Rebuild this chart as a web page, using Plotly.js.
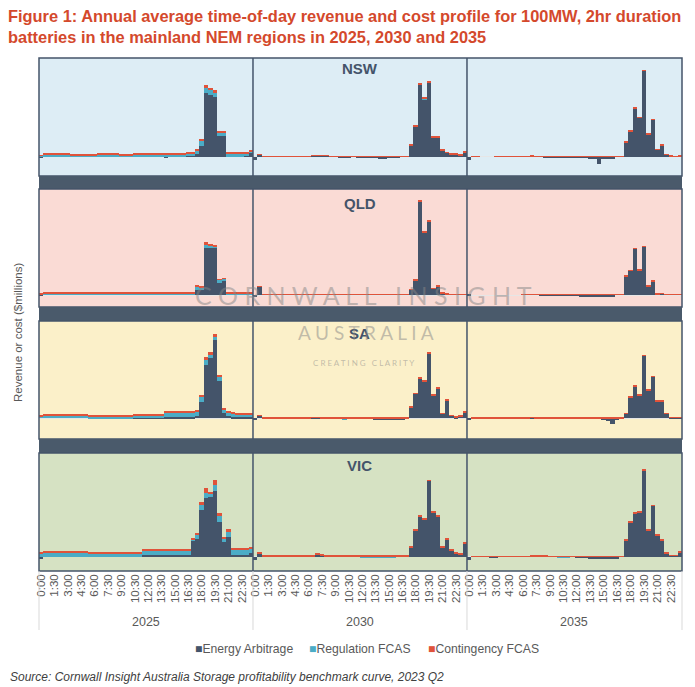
<!DOCTYPE html>
<html><head><meta charset="utf-8">
<script src="https://cdn.plot.ly/plotly-3.0.1.min.js"></script>
<style>html,body{margin:0;padding:0;background:#fff}#chart{width:695px;height:687px}</style>
</head><body><div id="chart"></div>
<script>
// Half-hourly categories
const times = ["0:00","0:30","1:00","1:30","2:00","2:30","3:00","3:30","4:00","4:30","5:00","5:30",
"6:00","6:30","7:00","7:30","8:00","8:30","9:00","9:30","10:00","10:30","11:00","11:30",
"12:00","12:30","13:00","13:30","14:00","14:30","15:00","15:30","16:00","16:30","17:00","17:30",
"18:00","18:30","19:00","19:30","20:00","20:30","21:00","21:30","22:00","22:30","23:00","23:30"];
const tickLabels = ["0:00","1:30","3:00","4:30","6:00","7:30","9:00","10:30","12:00","13:30","15:00","16:30","18:00","19:30","21:00","22:30"];
const regions = ["NSW","QLD","SA","VIC"];
const years = ["2025","2030","2035"];
const seriesNames = ["Energy Arbitrage","Regulation FCAS","Contingency FCAS"];

// ---------- NSW ----------
const nswEA2025 = [-1.5,0,0,0,0,0, 0,0,0,0,0,0, 0,0,0,0,0,0, 0,0,0,0,0,0, 0,0,0,0,-0.5,0, 0,0,0,0.5,0.5,2.7, 11,64,61.7,60,20.7,20.7, 0.3,0.3,0.3,0.3,0.5,4];
const nswReg2025 = [1,2.4,2.4,2.4,2.4,2.4, 2.4,1.6,1.6,1.6,1.6,1.6, 1.6,2.4,2.4,2.4,2.4,2.4, 1.6,1.6,1.6,2.4,2.4,2.4, 2.4,2.4,2.4,2.4,2.2,2.2, 2.2,2.2,2.2,2.8,3.2,3.5, 5,5,5,4.3,3.7,3.7, 3,3,3,3,3,1.5];
const nswCont2025 = [0.6,0.9,0.9,0.9,0.9,0.9, 0.9,0.9,0.9,0.9,0.9,0.9, 0.9,0.9,0.9,0.9,0.9,0.9, 0.9,0.9,0.9,0.9,0.9,0.9, 0.9,0.9,0.9,0.9,0.9,0.9, 0.9,0.9,0.9,0.9,1,1, 1.3,3,2.3,2.3,1.3,1.3, 1,1,1,1,1,1];
const nswEA2030 = [-3,2,0,0,0,0, 0,0,0,0,0,0, 0,1.2,1.2,1.2,1.2,0, 0,-0.8,-0.8,-0.8,0,-1, -1,-1,-1,-1.5,-2.5,-2.5, -1.5,-1.5,-1.5,0,0,11.5, 30.3,72,57.7,74,19.7,19.7, 6.5,4,2.7,2.4,1.5,4.3];
const nswReg2030 = [0,0,0,0,0,0, 0,0,0,0,0,0, 0,0,0,0,0,0, 0,0,0,0,0,0, 0,0,0,0,0,0, 0,0,0,0,0,0.2, 0.3,0.3,0.3,0.3,0.2,0.2, 0.2,0.2,0.2,0.2,0.2,0.2];
const nswCont2030 = [0,0.5,0.5,0.5,0.5,0.5, 0.5,0.5,0.5,0.5,0.5,0.5, 0.5,0.5,0.5,0.5,0.5,0.5, 0.5,0.5,0.5,0.5,0.5,0.5, 0.5,0.5,0.5,0.5,0.5,0.5, 0.5,0.5,0.5,0.5,0.5,0.8, 1.2,1,1.3,1,0.8,0.8, 0.8,0.5,0.5,0.5,0.5,0.5];
const nswEA2035 = [-3.5,0,0,0,0,0, 0,0,0,0,0,0, 0,0,0.5,0,0,-1, -1,-1,-0.5,-0.5,-0.5,-0.5, -1.3,-1.3,-1.3,-2.5,-2.5,-7.5, -2,-2,-2,0,0,14.5, 25.2,48.5,39,86.2,22.6,37, 7,11.3,2,0.5,0.2,0.5];
const nswReg2035 = [0,0,0,0,0,0, 0,0,0,0,0,0, 0,0,0,0,0,0, 0,0,0,0,0,0, 0,0,0,0,0,0, 0,0,0,0,0,0, 0,0,0,0,0,0, 0,0,0,0,0,0];
const nswCont2035 = [0,0.5,0.5,0,0,0, 0.5,0.5,0.5,0.5,0.5,0.5, 0.5,0.5,0.5,0.5,0.5,0.5, 0.5,0.5,0.5,0.5,0.5,0.5, 0.5,0.5,0.5,0.5,0.5,0.5, 0.5,0.5,0.5,0.5,0.5,0.8, 0.8,0.8,0.8,0.8,0.8,0.8, 0.8,0.8,0.5,0.5,0.5,0.5];

// ---------- QLD ----------
const qldEA2025 = [-1.5,0,0,0,0,0, 0,0,0,0,0,0, 0,0,0,0,0,0, 0,0,0,0,0,0, 0,0,0,0,0,0, 0,0,0,0,0,5, 4.5,47,46.7,47.3,11.7,13.7, 0.3,0.3,0.3,0.3,0.3,0.3];
const qldReg2025 = [0.8,1.4,1.4,1.4,1.4,1.4, 1.4,1.4,1.4,1.2,1.2,1.2, 1.2,1.4,1.4,1.4,1.4,1.4, 1.4,1.4,1.4,1.4,1.7,1.7, 1.7,1.7,1.7,1.7,1.7,1.5, 1.5,1.5,1.5,1.5,1.5,3, 3,3.5,2.3,1.2,3.3,2.3, 1.5,1.5,1.5,1.5,1.5,1.5];
const qldCont2025 = [0.4,0.6,0.6,0.6,0.6,0.6, 0.6,0.6,0.6,0.9,0.9,0.9, 0.9,0.6,0.6,0.6,0.6,0.6, 0.6,0.6,0.6,0.6,0.6,0.6, 0.6,0.6,0.6,0.8,0.8,0.8, 0.6,0.6,0.6,0.6,0.6,1, 0.8,2.5,1.7,0.8,0.5,0.7, 0.5,0.5,0.5,0.5,0.5,0.5];
const qldEA2030 = [-2,8,0,0,0,0, 0,0,0,0,0,0, 0,0,0,0,0,0, 0,0,0,0,0,0, 0,0,0,0,0,0, 0,0,0,0,0,5, 14.2,93.5,62.5,73.5,6,8.2, 1.7,0.5,0,0,0,0];
const qldReg2030 = [0,0,0,0,0,0, 0,0,0,0,0,0, 0,0,0,0,0,0, 0,0,0,0,0,0, 0,0,0,0,0,0, 0,0,0,0,0,0, 0,0,0,0,0,0, 0,0,0,0,0,0];
const qldCont2030 = [0,0.5,0.5,0.5,0.5,0.5, 0.5,0.5,0.5,0.5,0.5,0.5, 0.5,0.5,0.5,0.5,0.5,0.5, 0.5,0.5,0.5,0.5,0.5,0.5, 0.5,0.5,0.5,0.5,0.5,0.5, 0.5,0.5,0.5,0.5,0.5,0.8, 0.8,0.8,0.8,0.8,0.8,0.8, 0.5,0.5,0.5,0.5,0.5,0.5];
const qldEA2035 = [-1.5,0,0,0,0,0, 0,0,0,0,0,0, 0,0,0,0,-0.8,-0.8, -0.8,-0.8,-1.5,-1.5,-0.5,-0.5, -0.5,-2,-2,-2,-2,-2, -2,-2,-2,0,0,18.5, 24.2,46,24.3,48.3,8.3,13.3, 0.5,1,0,0,0,0];
const qldReg2035 = [0,0,0,0,0,0, 0,0,0,0,0,0, 0,0,0,0,0,0, 0,0,0,0,0,0, 0,0,0,0,0,0, 0,0,0,0,0,0, 0,0,0,0,0,0, 0,0,0,0,0,0];
const qldCont2035 = [0,0,0,0,0,0, 0,0,0,0,0,0, 0.5,0.5,0.5,0.5,0.5,0.5, 0.5,0.5,0.5,0.5,0.5,0.5, 0.5,0.5,0.5,0.5,0.5,0.5, 0.5,0.5,0.5,0.5,0.5,0.7, 0.7,0.7,0.7,0.7,0.7,0.7, 0.5,0.5,0.5,0.5,0.5,0.5];

// ---------- SA ----------
const saEA2025 = [0,0,0,0,0,0, 0,0,0,0,0,0, 0,0,0,0,0,0, 0,0,0,0.5,0.5,0.5, 0.5,0.5,0.5,0.5,1.5,1.5, 1.5,1.5,1.5,1.5,1.5,2.5, 16.7,53.3,60,78.3,37.3,5, 2,1.5,1,1,1,1];
const saReg2025 = [2,2.4,2.4,2.4,2.4,2.4, 2.4,2.4,2.4,2.4,2.4,1.8, 1.8,1.8,1.8,1.8,1.8,1.8, 1.8,1.8,1.8,2.6,2.6,2.6, 2.6,2.6,2.6,2.6,4,4, 4,4,4,4,4,3.8, 5,5,4,3.3,4.3,3.5, 3.7,3.2,2.7,2.7,2.7,2.7];
const saCont2025 = [0.9,0.9,0.9,0.9,0.9,0.9, 0.9,0.9,0.9,0.9,0.9,0.9, 0.9,0.9,0.9,0.9,0.9,0.9, 0.9,0.9,0.9,0.9,0.9,0.9, 0.9,0.9,0.9,0.9,1.2,1.2, 1.2,1.2,1.2,1.2,1.2,1, 1.7,3.3,2,2.3,1.7,1.5, 1,1,1,1,1,1];
const saEA2030 = [-2,2.5,0,0,0,0, 0,0,0,0,0,0, 0,0.6,0.6,0,0,0, 0,0,0,0,0,0, 0,0,0,-1.5,-1.5,-1.5, -1.5,-0.8,-0.8,-0.8,0,11, 24.3,40,36.6,65,22.6,30, 4.3,17.6,2.6,1,2,6];
const saReg2030 = [0,0,0,0,0,0, 0,0,0,0,0,0, 0,0,0,0,0,0, 0,0,-0.8,0,0,0, 0,0,0,0,0,0, 0,0,0,0,0,0, 0,0,0,0,0,0, 0,0,0,0,0,0];
const saCont2030 = [0,0.5,0.5,0.5,0.5,0.5, 0.5,0.5,0.5,0.5,0.5,0.5, 0.5,0.5,0.5,0.5,0.5,0.5, 0.5,0.5,0.5,0.5,0.5,0.8, 0.8,0.8,0.8,0.5,0.5,0.5, 0.5,0.5,0.5,0.5,0.5,0.7, 0.7,0.7,0.7,0.7,0.7,0.7, 0.7,0.7,0.5,0.5,0.5,0.5];
const saEA2035 = [-2,0,0,0,0,0, 0,0,0,0,0,0, 0,0,0.3,0,0,0, 0,-0.7,0,-0.7,-0.7,-0.7, -0.7,0,0,0,0,0, -1.5,-2.5,-6,-1,0,4.5, 21,32,22.6,62.6,27.6,41.6, 16.6,16.6,4.4,0.3,0.3,0.3];
const saReg2035 = [0,0,0,0,0,0, 0,0,0,0,0,0, 0,0,0,0,0,0, 0,0,0,0,0,0, 0,0,0,0,0,0, 0,0,0,0,0,0, 0,0,0,0,0,0, 0,0,0,0,0,0];
const saCont2035 = [0,0.5,0.5,0.5,0.5,0.5, 0.5,0.5,0.5,0.5,0.5,0.5, 0.5,0.5,0.5,0.5,0.5,0.5, 0.5,0.5,0.5,0.5,0.5,0.5, 0.5,0.5,0.5,0.5,0.5,0.5, 0.5,0.5,0.5,0.5,0.5,0.7, 0.7,0.7,0.7,0.7,0.7,0.7, 0.7,0.7,0.5,0.5,0.5,0.5];

// ---------- VIC ----------
const vicEA2025 = [-2.5,0,0,0,0,0, 0,0,0,0,0,0, 0,0,0,0,0,0, 0,0,0,0,0,1.2, 1.2,1.2,1.2,1.2,1.2,1.2, 1.2,1.2,1.2,1.2,15.7,17.7, 46.7,58.3,59.3,66,35,15, 20,1.7,1.7,1.7,1.7,3.5];
const vicReg2025 = [3.5,4.3,4.3,4.3,4.3,4.3, 4.3,4.3,4.3,4.3,4.3,3.5, 3.5,3.5,3.5,3.5,3.5,3.5, 3.5,3.5,3.5,3.5,3.5,4.8, 4.8,4.8,4.8,4.8,4.8,4.8, 4.8,4.8,4.8,4.8,1.5,4.7, 5,5,4,5.7,5.7,3.3, 5,5,5,5,5,5];
const vicCont2025 = [1,1.3,1.3,1.3,1.3,1.3, 1.3,1.3,1.3,1.3,1.3,1.2, 1.2,1.2,1.2,1.2,1.2,1.2, 1.2,1.2,1.2,1.2,1.2,1.2, 1.2,1.2,1.2,1.2,1.2,1.2, 1.2,1.2,1.2,1.2,1,1, 3.3,5,1.7,5,2.7,1.7, 2.3,1.7,1.7,1.7,1.5,1.5];
const vicEA2030 = [-3,3,0,0,0,0, 0,0,0,0,0,0, 0,0,2.5,1,0,0, 0,0,0,0,0,0, 0,0,0,0,0,0, 0,0,0,0,0,9.3, 26.5,40,37.5,76,44.3,40, 9.3,17.6,6,3.3,2.6,13.3];
const vicReg2030 = [0,0,0,0,0,0, 0,0,0,0,0,0, 0,0,0,0,0,0, 0,0,0,0,0,0, -0.8,-0.8,-0.8,-0.8,-0.8,-0.8, -0.8,-0.8,0,0,0,0, 0,0,0,0,0,0, 0,0,0,0,0,0];
const vicCont2030 = [0,0.7,0.7,0.7,0.7,0.7, 0.7,0.7,0.7,0.7,0.7,0.7, 0.7,0.7,0.7,0.7,0.7,0.7, 0.7,0.7,0.7,0.7,0.7,0.7, 0.7,0.7,0.7,0.7,0.7,0.7, 0.7,0.7,0.7,0.7,0.7,0.7, 0.7,0.7,0.7,0.7,0.7,0.7, 0.7,0.7,0.7,0.7,0.7,0.7];
const vicEA2035 = [-3,0,0,0,0,-1.3, -1.3,0,0,0,0,0, 0,0,0.5,0.3,0.3,0.3, 0,0,0,0,0,0, -1,-1,-1,-2.5,-2.5,-2.5, -2.5,-2.5,-2.5,-2.5,0,16, 34.3,43.3,44.3,86.6,26.6,51, 21,16.6,3.3,1,1,4.3];
const vicReg2035 = [0,0,0,0,0,0, 0,0,0,0,0,0, 0,0,0,0,0,0, 0,0,-0.7,-0.7,-0.7,0, 0,0,0,0,0,0, 0,0,0,0,0,0, 0,0,0,0,0,0, 0,0,0,0,0,0];
const vicCont2035 = [0,0.5,0.5,0.5,0.5,0.5, 0.5,0.5,0.5,0.5,0.5,0.5, 0.5,0.5,0.5,0.5,0.5,0.5, 0.5,0.5,0.5,0.5,0.5,0.5, 0.5,0.5,0.5,0.5,0.5,0.5, 0.5,0.5,0.5,0.5,0.5,0.7, 0.7,0.7,0.7,0.7,0.7,0.7, 0.7,0.7,0.5,0.5,0.5,0.5];

const panelData = [
  [[nswEA2025,nswReg2025,nswCont2025],[nswEA2030,nswReg2030,nswCont2030],[nswEA2035,nswReg2035,nswCont2035]],
  [[qldEA2025,qldReg2025,qldCont2025],[qldEA2030,qldReg2030,qldCont2030],[qldEA2035,qldReg2035,qldCont2035]],
  [[saEA2025,saReg2025,saCont2025],[saEA2030,saReg2030,saCont2030],[saEA2035,saReg2035,saCont2035]],
  [[vicEA2025,vicReg2025,vicCont2025],[vicEA2030,vicReg2030,vicCont2030],[vicEA2035,vicReg2035,vicCont2035]]
];

// ---------- styling ----------
const seriesColors = ["#44546a","#4bacc6","#e0533a"];
const rowBg = ["#ddedf5","#fadbd5","#fbf0c9","#d6e2c3"];
const dark = "#44546a";
const colDom = [[0,0.3328],[0.3328,0.6656],[0.6656,1]];
const rowDom = [[0.770,1],[0.5146,0.7446],[0.2573,0.4873],[0,0.2300]];
const rowRange = [[-19,99],[-12,106],[-20.7,97.3],[-14.3,103.7]];

const traces = [];
for (let r = 0; r < 4; r++) {
  for (let c = 0; c < 3; c++) {
    for (let s = 0; s < 3; s++) {
      traces.push({
        type: "bar", x: times, y: panelData[r][c][s],
        name: seriesNames[s], showlegend: false,
        marker: {color: seriesColors[s], line: {width: 0}},
        xaxis: c === 0 ? "x" : "x" + (c + 1),
        yaxis: r === 0 ? "y" : "y" + (r + 1),
        hovertemplate: regions[r] + " " + years[c] + " %{x}: %{y}<extra>" + seriesNames[s] + "</extra>"
      });
    }
  }
}

const layout = {
  width: 695, height: 687,
  margin: {l: 39, r: 13, t: 58, b: 116, pad: 0},
  paper_bgcolor: "#ffffff", plot_bgcolor: "rgba(0,0,0,0)",
  font: {family: "Liberation Sans, Arial, sans-serif", color: "#595959"},
  barmode: "relative", bargap: 0,
  showlegend: false,
  title: {
    text: "<b>Figure 1: Annual average time-of-day revenue and cost profile for 100MW, 2hr duration</b><br><b>batteries in the mainland NEM regions in 2025, 2030 and 2035</b>",
    x: 8/695, xref: "container", xanchor: "left",
    y: 1 - 22/687, yref: "container", yanchor: "top",
    font: {family: "Liberation Sans, Arial, sans-serif", size: 16.4, color: "#d4492c"}
  },
  shapes: [], annotations: []
};

for (let c = 0; c < 3; c++) {
  const key = c === 0 ? "xaxis" : "xaxis" + (c + 1);
  layout[key] = {
    domain: colDom[c], anchor: "y4", type: "category",
    categoryorder: "array", categoryarray: times, range: [-0.5, 47.5],
    tickmode: "array", tickvals: tickLabels, ticktext: tickLabels, tickangle: -90,
    tickfont: {size: 11.5, color: "#595959"}, ticks: "", showgrid: false, zeroline: false, showline: false,
    fixedrange: true
  };
}
for (let r = 0; r < 4; r++) {
  const key = r === 0 ? "yaxis" : "yaxis" + (r + 1);
  layout[key] = {
    domain: rowDom[r], anchor: "x", range: rowRange[r],
    showticklabels: false, ticks: "", showgrid: false, showline: false,
    zeroline: true, zerolinecolor: "#e6e6e6", zerolinewidth: 1, fixedrange: true
  };
  layout.shapes.push({type: "rect", xref: "paper", yref: "paper", x0: 0, x1: 1, y0: rowDom[r][0], y1: rowDom[r][1],
    fillcolor: rowBg[r], line: {width: 0}, layer: "below"});
  layout.shapes.push({type: "rect", xref: "paper", yref: "paper", x0: 0, x1: 1, y0: rowDom[r][0], y1: rowDom[r][1],
    fillcolor: "rgba(0,0,0,0)", line: {color: dark, width: 1.5}, layer: "above"});
  for (let c = 1; c < 3; c++) {
    layout.shapes.push({type: "line", xref: "paper", yref: "paper", x0: colDom[c][0], x1: colDom[c][0],
      y0: rowDom[r][0], y1: rowDom[r][1], line: {color: dark, width: 1.5}, layer: "above"});
  }
  if (r < 3) {
    layout.shapes.push({type: "rect", xref: "paper", yref: "paper", x0: 0, x1: 1, y0: rowDom[r + 1][1], y1: rowDom[r][0],
      fillcolor: "#4a5a6b", line: {width: 0}, layer: "above"});
  }
}
[0, colDom[1][0], colDom[2][0], 1].forEach(x => {
  layout.shapes.push({type: "line", xref: "paper", yref: "paper", x0: x, x1: x, y0: 0, y1: -0.115,
    line: {color: "#d9d9d9", width: 1}});
});

// region labels
const regionY = [0.9786, 0.7173, 0.4639, 0.2047];
regions.forEach((reg, r) => {
  layout.annotations.push({text: "<b>" + reg + "</b>", xref: "paper", yref: "paper", x: 0.4992, y: regionY[r],
    showarrow: false, font: {size: 15, color: dark}, xanchor: "center", yanchor: "middle"});
});
// year labels
years.forEach((yr, c) => {
  layout.annotations.push({text: yr, xref: "paper", yref: "paper", x: (colDom[c][0] + colDom[c][1]) / 2, y: -0.0994,
    showarrow: false, font: {size: 12.5, color: "#595959"}, xanchor: "center", yanchor: "middle"});
});
// legend (series key)
const legendX = [193, 307, 426];
seriesNames.forEach((nm, s) => {
  layout.annotations.push({text: '<span style="color:' + seriesColors[s] + '">■</span>' + nm,
    xref: "paper", yref: "paper", x: (legendX[s] - 39) / 643, y: (571 - 649) / 513,
    showarrow: false, font: {size: 12.2, color: "#595959"}, xanchor: "left", yanchor: "middle"});
});
// y-axis title
layout.annotations.push({text: "Revenue or cost ($millions)", xref: "paper", yref: "paper", x: (18 - 39) / 643, y: (571 - 332) / 513,
  textangle: -90, showarrow: false, font: {size: 11.5, color: "#595959"}, xanchor: "center", yanchor: "middle"});
// source
layout.annotations.push({text: "<i>Source: Cornwall Insight Australia Storage profitability benchmark curve, 2023 Q2</i>",
  xref: "paper", yref: "paper", x: (8 - 39) / 643, y: (571 - 677) / 513, showarrow: false,
  font: {size: 12, color: "#404040"}, xanchor: "left", yanchor: "middle"});
// watermark
const wm = "rgba(135,135,135,0.5)";
layout.annotations.push({text: "C O R N W A L L   I N S I G H T", xref: "paper", yref: "paper", x: (363 - 39) / 643, y: (571 - 295) / 513,
  showarrow: false, font: {family: "Lato, Liberation Sans, sans-serif", size: 25, color: wm}});
layout.annotations.push({text: "A U S T R A L I A", xref: "paper", yref: "paper", x: (366 - 39) / 643, y: (571 - 332) / 513,
  showarrow: false, font: {family: "Lato, Liberation Sans, sans-serif", size: 19, color: wm}});
layout.annotations.push({text: "C R E A T I N G   C L A R I T Y", xref: "paper", yref: "paper", x: (363.5 - 39) / 643, y: (571 - 363) / 513,
  showarrow: false, font: {family: "Lato, Liberation Sans, sans-serif", size: 8, color: wm}});

Plotly.newPlot("chart", traces, layout, {displayModeBar: false, responsive: false});
</script>
</body></html>
